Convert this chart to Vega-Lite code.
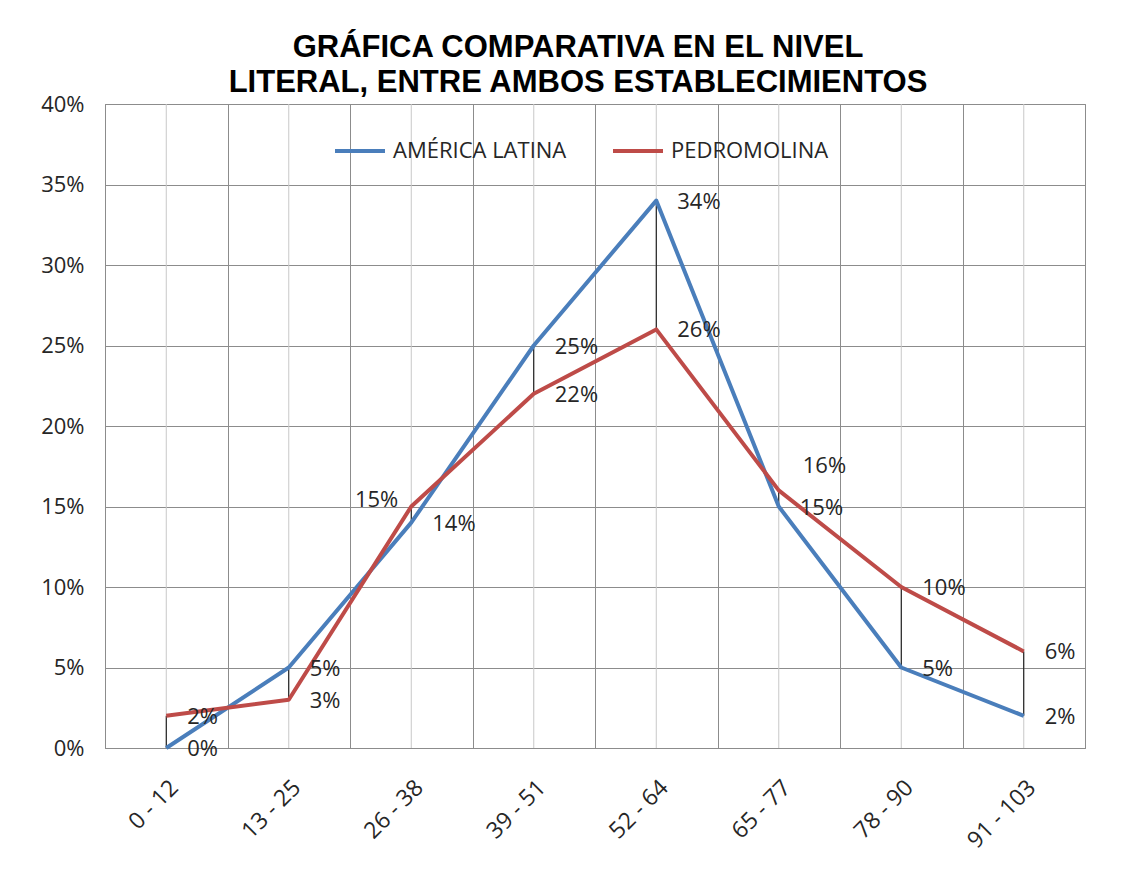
{
  "$schema": "https://vega.github.io/schema/vega-lite/v6.json",
  "width": 980,
  "height": 644,
  "autosize": {"type": "none"},
  "padding": {"left": 105, "top": 104, "right": 52, "bottom": 134},
  "background": "white",
  "title": {
    "text": ["GRÁFICA COMPARATIVA EN EL NIVEL", "LITERAL, ENTRE AMBOS ESTABLECIMIENTOS"],
    "font": "Liberation Sans",
    "fontSize": 31,
    "fontWeight": "bold",
    "color": "#000000",
    "anchor": "middle",
    "frame": "group",
    "dx": -17,
    "offset": -6,
    "lineHeight": 35
  },
  "config": {
    "view": {"stroke": "#8c8c8c", "strokeWidth": 1},
    "font": "Open Sans"
  },
  "data": {
    "values": [
      {"cat": "0 - 12", "serie": "AMÉRICA LATINA", "value": 0.00},
      {"cat": "13 - 25", "serie": "AMÉRICA LATINA", "value": 0.05},
      {"cat": "26 - 38", "serie": "AMÉRICA LATINA", "value": 0.14},
      {"cat": "39 - 51", "serie": "AMÉRICA LATINA", "value": 0.25},
      {"cat": "52 - 64", "serie": "AMÉRICA LATINA", "value": 0.34},
      {"cat": "65 - 77", "serie": "AMÉRICA LATINA", "value": 0.15},
      {"cat": "78 - 90", "serie": "AMÉRICA LATINA", "value": 0.05},
      {"cat": "91 - 103", "serie": "AMÉRICA LATINA", "value": 0.02},
      {"cat": "0 - 12", "serie": "PEDROMOLINA", "value": 0.02},
      {"cat": "13 - 25", "serie": "PEDROMOLINA", "value": 0.03},
      {"cat": "26 - 38", "serie": "PEDROMOLINA", "value": 0.15},
      {"cat": "39 - 51", "serie": "PEDROMOLINA", "value": 0.22},
      {"cat": "52 - 64", "serie": "PEDROMOLINA", "value": 0.26},
      {"cat": "65 - 77", "serie": "PEDROMOLINA", "value": 0.16},
      {"cat": "78 - 90", "serie": "PEDROMOLINA", "value": 0.10},
      {"cat": "91 - 103", "serie": "PEDROMOLINA", "value": 0.06}
    ]
  },
  "encoding": {
    "x": {
      "field": "cat",
      "type": "nominal",
      "sort": null,
      "scale": {"type": "band", "paddingInner": 0, "paddingOuter": 0},
      "axis": {
        "title": null,
        "labelAngle": -45,
        "labelFont": "Open Sans",
        "labelFontSize": 23,
        "labelColor": "#262626",
        "labelPadding": 28,
        "ticks": false,
        "tickBand": "extent",
        "grid": true,
        "gridColor": "#8c8c8c",
        "gridWidth": 1,
        "domainColor": "#8c8c8c"
      }
    }
  },
  "layer": [
    {
      "mark": {"type": "rule", "color": "#c8c8c8", "strokeWidth": 1},
      "transform": [{"filter": "datum.serie === 'PEDROMOLINA'"}],
      "encoding": {}
    },
    {
      "transform": [
        {"pivot": "serie", "value": "value", "groupby": ["cat"]}
      ],
      "mark": {"type": "rule", "color": "#000000", "strokeWidth": 1},
      "encoding": {
        "y": {"field": "AMÉRICA LATINA", "type": "quantitative"},
        "y2": {"field": "PEDROMOLINA"}
      }
    },
    {
      "mark": {"type": "line", "strokeWidth": 4, "interpolate": "linear", "strokeJoin": "round"},
      "encoding": {
        "y": {
          "field": "value",
          "type": "quantitative",
          "scale": {"domain": [0, 0.4]},
          "axis": {
            "title": null,
            "format": ".0%",
            "values": [0, 0.05, 0.1, 0.15, 0.2, 0.25, 0.3, 0.35, 0.4],
            "labelFont": "Open Sans",
            "labelFontSize": 22,
            "labelColor": "#262626",
            "labelPadding": 21,
            "ticks": false,
            "grid": true,
            "gridColor": "#8c8c8c",
            "domainColor": "#8c8c8c"
          }
        },
        "color": {
          "field": "serie",
          "type": "nominal",
          "scale": {"domain": ["AMÉRICA LATINA", "PEDROMOLINA"], "range": ["#4a7ebb", "#be4b48"]},
          "legend": {
            "title": null,
            "orient": "none",
            "legendX": 228,
            "legendY": 20,
            "direction": "horizontal",
            "symbolType": "stroke",
            "symbolStrokeWidth": 4,
            "symbolSize": 2500,
            "labelFont": "Open Sans",
            "labelFontSize": 22,
            "labelColor": "#262626",
            "labelOffset": 6,
            "labelLimit": 400,
            "columnPadding": 38
          }
        }
      }
    },
    {
      "transform": [
        {"filter": "!((datum.serie === 'PEDROMOLINA' && datum.cat === '26 - 38') || (datum.serie === 'PEDROMOLINA' && datum.cat === '65 - 77'))"}
      ],
      "mark": {"type": "text", "align": "left", "baseline": "middle", "dx": 21, "dy": 1, "font": "Open Sans", "fontSize": 22, "color": "#262626"},
      "encoding": {
        "y": {"field": "value", "type": "quantitative"},
        "text": {"field": "value", "type": "quantitative", "format": ".0%"}
      }
    },
    {
      "transform": [
        {"filter": "datum.serie === 'PEDROMOLINA' && datum.cat === '26 - 38'"}
      ],
      "mark": {"type": "text", "align": "right", "baseline": "middle", "dx": -13, "dy": -7, "font": "Open Sans", "fontSize": 22, "color": "#262626"},
      "encoding": {
        "y": {"field": "value", "type": "quantitative"},
        "text": {"field": "value", "type": "quantitative", "format": ".0%"}
      }
    },
    {
      "transform": [
        {"filter": "datum.serie === 'PEDROMOLINA' && datum.cat === '65 - 77'"}
      ],
      "mark": {"type": "text", "align": "left", "baseline": "middle", "dx": 24, "dy": -24, "font": "Open Sans", "fontSize": 22, "color": "#262626"},
      "encoding": {
        "y": {"field": "value", "type": "quantitative"},
        "text": {"field": "value", "type": "quantitative", "format": ".0%"}
      }
    }
  ]
}
